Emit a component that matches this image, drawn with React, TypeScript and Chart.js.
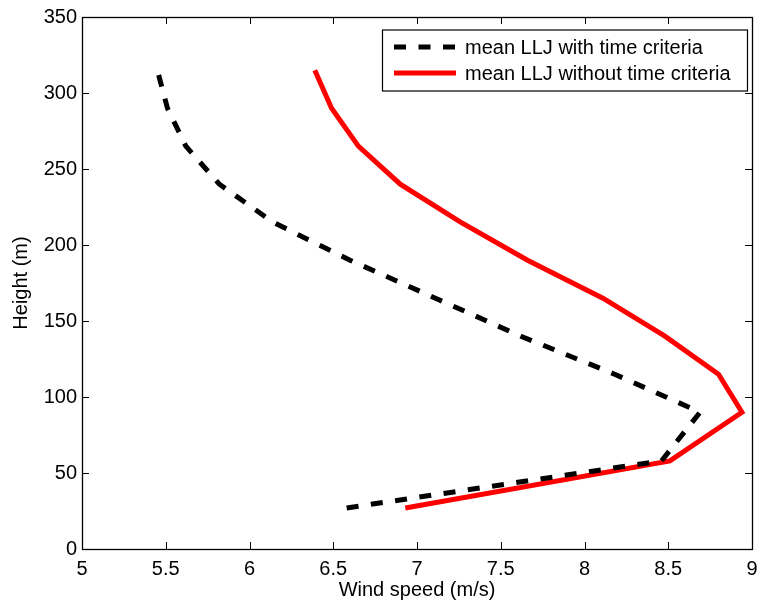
import React, { useEffect, useRef } from "react";
import { Chart, registerables } from "chart.js";

Chart.register(...registerables);

const heights = [27, 58, 90, 115, 140, 165, 190, 215, 240, 265, 290, 315];
const withTime = [6.58, 8.46, 8.69, 8.18, 7.62, 7.11, 6.6, 6.14, 5.82, 5.62, 5.51, 5.45];
const withoutTime = [6.93, 8.51, 8.94, 8.8, 8.48, 8.11, 7.66, 7.26, 6.9, 6.65, 6.49, 6.39];
const seriesLabels = ["mean LLJ with time criteria", "mean LLJ without time criteria"];
const xTicks = [5, 5.5, 6, 6.5, 7, 7.5, 8, 8.5, 9];
const yTicks = [0, 50, 100, 150, 200, 250, 300, 350];

const FONT = "'Liberation Sans', Arial, Helvetica, sans-serif";
const FS = 20;

const framePlugin = {
  id: "matlabFrame",
  afterDraw(chart: any) {
    const ctx = chart.ctx;
    const { left, right, top, bottom } = chart.chartArea;
    const xs = chart.scales.x;
    const ys = chart.scales.y;
    const tl = 7;
    ctx.save();
    ctx.strokeStyle = "#000";
    ctx.lineWidth = 1;
    ctx.beginPath();
    for (const v of xTicks) {
      const px = Math.round(xs.getPixelForValue(v)) + 0.5;
      ctx.moveTo(px, bottom);
      ctx.lineTo(px, bottom - tl);
      ctx.moveTo(px, top);
      ctx.lineTo(px, top + tl);
    }
    for (const v of yTicks) {
      const py = Math.round(ys.getPixelForValue(v)) + 0.5;
      ctx.moveTo(left, py);
      ctx.lineTo(left + tl, py);
      ctx.moveTo(right, py);
      ctx.lineTo(right - tl, py);
    }
    ctx.stroke();
    ctx.lineWidth = 1.3;
    ctx.strokeRect(Math.round(left) + 0.5, Math.round(top) + 0.5, Math.round(right - left), Math.round(bottom - top));

    // legend
    const lx = 382, ly = 29.5, lw = 365, lh = 61;
    ctx.fillStyle = "#fff";
    ctx.fillRect(lx, ly, lw, lh);
    ctx.lineWidth = 1.2;
    ctx.strokeStyle = "#000";
    ctx.strokeRect(lx + 0.5, ly + 0.5, lw, lh);
    const rows = [47, 73];
    chart.data.datasets.forEach((ds: any, i: number) => {
      const y = rows[i];
      ctx.save();
      ctx.beginPath();
      ctx.strokeStyle = ds.borderColor;
      ctx.lineWidth = ds.borderWidth;
      ctx.lineCap = "butt";
      ctx.setLineDash(ds.borderDash || []);
      ctx.moveTo(394, y);
      ctx.lineTo(456, y);
      ctx.stroke();
      ctx.restore();
      ctx.fillStyle = "#000";
      ctx.font = `${FS}px ${FONT}`;
      ctx.textBaseline = "middle";
      ctx.textAlign = "left";
      ctx.fillText(ds.label, 465, y + 1);
    });
    ctx.restore();
  },
};

export default function App() {
  const ref = useRef<HTMLCanvasElement | null>(null);
  useEffect(() => {
    if (!ref.current) return;
    const chart = new Chart(ref.current, {
      type: "scatter",
      data: {
        datasets: [
          {
            label: seriesLabels[0],
            data: heights.map((h, i) => ({ x: withTime[i], y: h })),
            showLine: true,
            borderColor: "#000",
            backgroundColor: "#000",
            borderWidth: 5,
            borderDash: [12, 12.5],
            borderCapStyle: "butt",
            borderJoinStyle: "miter",
            pointRadius: 0,
            pointHoverRadius: 0,
            tension: 0,
          },
          {
            label: seriesLabels[1],
            data: heights.map((h, i) => ({ x: withoutTime[i], y: h })),
            showLine: true,
            borderColor: "#ff0000",
            backgroundColor: "#ff0000",
            borderWidth: 5,
            borderCapStyle: "butt",
            borderJoinStyle: "miter",
            pointRadius: 0,
            pointHoverRadius: 0,
            tension: 0,
          },
        ],
      },
      options: {
        animation: false,
        responsive: false,
        maintainAspectRatio: false,
        events: [],
        layout: { padding: { left: 0, top: 17, right: 9, bottom: 0 } },
        plugins: {
          legend: { display: false },
          tooltip: { enabled: false },
        },
        scales: {
          x: {
            type: "linear",
            min: 5,
            max: 9,
            afterBuildTicks: (s: any) => {
              s.ticks = xTicks.map((v) => ({ value: v }));
            },
            afterFit: (s: any) => {
              s.height = 56;
              s.paddingLeft = 0;
              s.paddingRight = 0;
            },
            grid: { display: false, drawTicks: false },
            border: { display: false },
            ticks: {
              color: "#000",
              font: { family: FONT, size: FS },
              padding: 8,
              maxRotation: 0,
              autoSkip: false,
              callback: (v: any) => String(v),
            },
            title: {
              display: true,
              text: "Wind speed (m/s)",
              color: "#000",
              font: { family: FONT, size: FS },
              padding: { top: 0, bottom: 3 },
            },
          },
          y: {
            type: "linear",
            min: 0,
            max: 350,
            afterBuildTicks: (s: any) => {
              s.ticks = yTicks.map((v) => ({ value: v }));
            },
            afterFit: (s: any) => {
              s.width = 82;
              s.paddingTop = 0;
              s.paddingBottom = 0;
            },
            grid: { display: false, drawTicks: false },
            border: { display: false },
            ticks: {
              color: "#000",
              font: { family: FONT, size: FS },
              padding: 5,
              autoSkip: false,
              callback: (v: any) => String(v),
            },
            title: {
              display: true,
              text: "Height (m)",
              color: "#000",
              font: { family: FONT, size: FS },
              padding: { top: 9, bottom: 0 },
            },
          },
        },
      },
      plugins: [framePlugin],
    });
    return () => chart.destroy();
  }, []);
  return (
    <div style={{ position: "fixed", left: 0, top: 0, width: 761, height: 605, background: "#fff" }}>
      <canvas ref={ref} width={761} height={605} style={{ width: 761, height: 605, display: "block" }} />
    </div>
  );
}
